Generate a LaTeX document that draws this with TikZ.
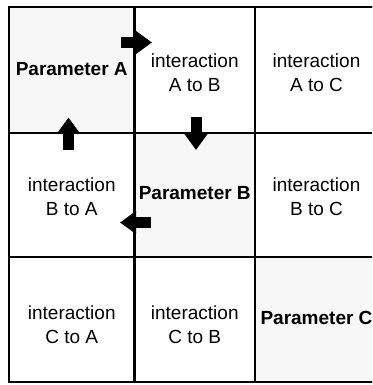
\documentclass[tikz,border=0pt]{standalone}
\usepackage{fontspec}
\setmainfont{Liberation Sans}
\usetikzlibrary{arrows.meta}

\tikzset{
  inter/.style={align=center, font=\fontsize{19}{24}\selectfont},
  param/.style={font=\fontsize{19}{24}\selectfont\bfseries},
  flow/.style={line width=11pt, -{Triangle[length=16pt,width=22pt]}}
}

\begin{document}
\begin{tikzpicture}[x=1pt,y=-1pt]
\useasboundingbox (0,0) rectangle (372,385);
\clip (0,0) rectangle (372,385);

% light screen on the diagonal
\fill[black!3] (9,7) rectangle (134.5,133);
\fill[black!3] (134.5,133) rectangle (255,257);
\fill[black!3] (255,257) rectangle (378,382);

% grid
\foreach \x in {9,134.5,255,378}
{
    \draw[line width=2.6pt] (\x,7) -- (\x,382);
}
\foreach \y in {7,133,257,382}
{
    \draw[line width=2.6pt] (9,\y) -- (378,\y);
}
\draw[line width=2.6pt] (9,7) rectangle (378,382);

% row 1
\node[param] (pA) at (71.75,69) {Parameter A};
\node[inter] (iAB) at (194.75,73) {interaction\\A to B};
\node[inter] (iAC) at (316.5,73) {interaction\\A to C};

% row 2
\node[inter] (iBA) at (71.75,197) {interaction\\B to A};
\node[param] (pB) at (194.75,193.5) {Parameter B};
\node[inter] (iBC) at (316.5,197) {interaction\\B to C};

% row 3
\node[inter] (iCA) at (71.75,325) {interaction\\C to A};
\node[inter] (iCB) at (194.75,325) {interaction\\C to B};
\node[param] (pC) at (316.5,318) {Parameter C};

% arrows
\coordinate (abS) at (121,42.5);
\coordinate (abT) at (152,42.5);
\coordinate (bbS) at (196,117);
\coordinate (bbT) at (196,150);
\coordinate (baS) at (151,222.5);
\coordinate (baT) at (120,222.5);
\coordinate (aaS) at (68.5,150);
\coordinate (aaT) at (68.5,117.5);

\draw[flow] (abS) -- (abT);
\draw[flow] (bbS) -- (bbT);
\draw[flow] (baS) -- (baT);
\draw[flow] (aaS) -- (aaT);

\end{tikzpicture}
\end{document}
